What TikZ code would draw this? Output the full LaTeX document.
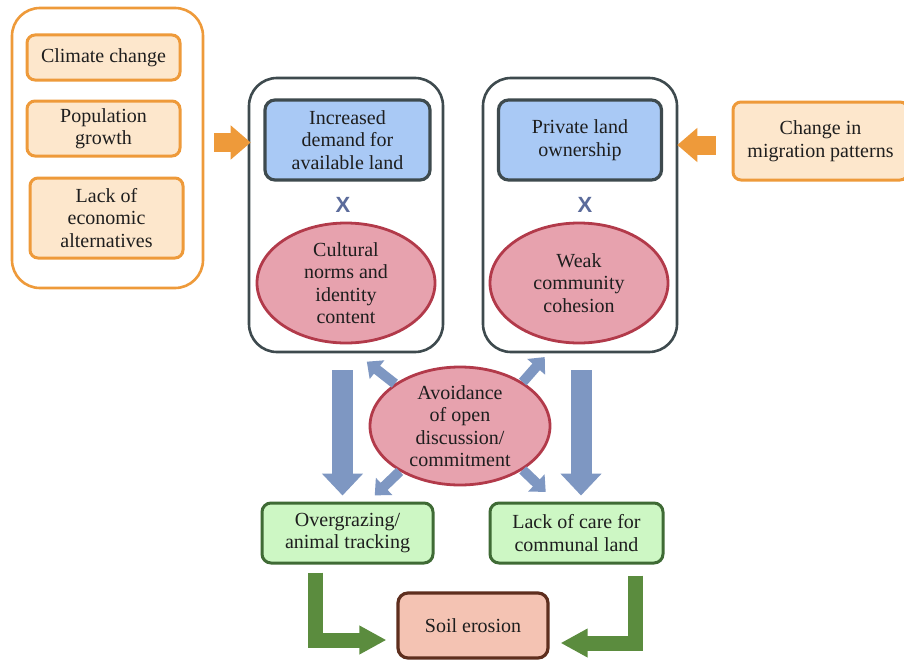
\documentclass[tikz,border=0pt]{standalone}
\usepackage{fontspec}
\setmainfont{Liberation Serif}
\newfontfamily\lblfont{Liberation Serif}
\newfontfamily\xfont{Liberation Sans}
\usetikzlibrary{arrows.meta,shapes.geometric,calc}
\definecolor{orbord}{HTML}{EE9A3A}
\definecolor{orfill}{HTML}{FDE7CC}
\definecolor{dkbord}{HTML}{3E4A4E}
\definecolor{blfill}{HTML}{A9C9F5}
\definecolor{rdfill}{HTML}{E7A2AE}
\definecolor{rdbord}{HTML}{B23A4A}
\definecolor{grfill}{HTML}{CDF7C4}
\definecolor{grbord}{HTML}{3F6B35}
\definecolor{sofill}{HTML}{F4C3B3}
\definecolor{sobord}{HTML}{5E2E1E}
\definecolor{blarrow}{HTML}{7E97C2}
\definecolor{grarrow}{HTML}{5B8C3E}
\definecolor{xcol}{HTML}{5B6B9B}
\definecolor{txt}{HTML}{1E1E1E}
\begin{document}
\begin{tikzpicture}[x=1pt,y=-1pt,
  lbl/.style={text=txt,align=center,font=\lblfont\fontsize{20}{22.5}\selectfont,inner sep=0pt},
  outerbox/.style={draw,rounded corners=28pt,line width=2.6pt,minimum width=#1},
  orbox/.style={lbl,draw=orbord,fill=orfill,rounded corners=8pt,line width=3pt},
  blbox/.style={lbl,draw=dkbord,fill=blfill,rounded corners=10pt,line width=3.2pt},
  rdell/.style={lbl,ellipse,draw=rdbord,fill=rdfill,line width=2.8pt},
  grbox/.style={lbl,draw=grbord,fill=grfill,rounded corners=9pt,line width=3pt},
  sobox/.style={lbl,draw=sobord,fill=sofill,rounded corners=10pt,line width=3.2pt},
  xmark/.style={text=xcol,font=\xfont\bfseries\fontsize{22}{22}\selectfont,inner sep=0pt},
  orarrow/.style={draw=orbord,line width=19pt,-{Triangle[width=33pt,length=20pt]}},
  bigblue/.style={draw=blarrow,line width=21pt,-{Triangle[width=40pt,length=22pt]}},
  smallblue/.style={draw=blarrow,line width=10pt,-{Triangle[width=23pt,length=13pt]}},
  grelbow/.style={draw=grarrow,line width=15pt,-{Triangle[width=27pt,length=27pt]}}
]
\useasboundingbox[fill=white] (0,0) rectangle (904,661);

% left group
\node[outerbox=191pt,draw=orbord,minimum height=280pt] (outerL) at (107.5,148) {};
\node[orbox,minimum width=153pt,minimum height=45pt] (cc) at (103.5,57.5) {Climate change};
\node[orbox,minimum width=153pt,minimum height=55pt] (pg) at (103.5,128.5) {Population\\growth};
\node[orbox,minimum width=153pt,minimum height=80pt] (lea) at (106.5,218) {Lack of\\economic\\alternatives};

% central boxes
\node[outerbox=194pt,draw=dkbord,minimum height=274pt] (boxL) at (346,215) {};
\node[outerbox=194pt,draw=dkbord,minimum height=274pt] (boxR) at (580,215) {};

\node[blbox,minimum width=165pt,minimum height=80pt] (demand) at (347.5,140) {Increased\\demand for\\available land};
\node[xmark] (xL) at (343,205) {X};
\node[rdell,minimum width=178pt,minimum height=120pt] (cult) at (346,283) {Cultural\\norms and\\identity\\content};

\node[blbox,minimum width=163pt,minimum height=80pt] (priv) at (580,140) {Private land\\ownership};
\node[xmark] (xR) at (585,205) {X};
\node[rdell,minimum width=178pt,minimum height=120pt] (weak) at (579,283) {Weak\\community\\cohesion};

\node[orbox,minimum width=175pt,minimum height=78pt] (mig) at (820.5,141) {Change in\\migration patterns};

% avoidance
\node[rdell,minimum width=180pt,minimum height=118pt] (avoid) at (460,426) {Avoidance\\of open\\discussion/\\commitment};

% outcomes
\node[grbox,minimum width=171pt,minimum height=60pt] (og) at (347.5,533) {Overgrazing/\\animal tracking};
\node[grbox,minimum width=173pt,minimum height=60pt] (lc) at (576.5,533) {Lack of care for\\communal land};
\node[sobox,minimum width=150pt,minimum height=65pt] (soil) at (473,625.5) {Soil erosion};

% orange arrows
\draw[orarrow,shorten <=10pt,shorten >=-3pt] (outerL.east |- 0,142.5) -- (boxL.west |- 0,142.5);
\draw[orarrow,shorten <=16pt,shorten >=-1pt] (mig.west |- 0,145) -- (boxR.east |- 0,145);

% big blue arrows
\draw[bigblue,shorten <=17pt,shorten >=6pt] ([xshift=-3.5pt]boxL.south) -- ([xshift=-5pt]og.north);
\draw[bigblue,shorten <=17pt,shorten >=6pt] ([xshift=1pt]boxR.south) -- ([xshift=4.5pt]lc.north);

% small blue arrows
\draw[smallblue] (avoid.147) -- ++(-28,-22);
\draw[smallblue] (avoid.35) -- ++(22,-25);
\draw[smallblue] (avoid.217) -- ++(-25,24);
\draw[smallblue] (avoid.325) -- ++(23,22);

% green elbow arrows
\draw[grelbow,shorten <=8pt,shorten >=10pt] ([xshift=-32.5pt]og.south) |- ([yshift=-14.5pt]soil.west);
\draw[grelbow,shorten <=11pt,shorten >=11pt] ([xshift=58.5pt]lc.south) |- ([yshift=-17.5pt]soil.east);
\end{tikzpicture}
\end{document}
